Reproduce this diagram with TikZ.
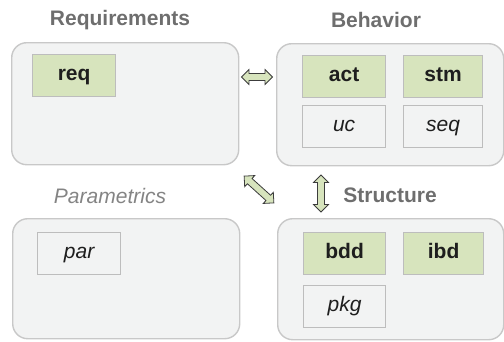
\documentclass[tikz,border=0pt]{standalone}
\usepackage{fontspec}
\setmainfont{Liberation Sans}
\definecolor{boxfill}{HTML}{F2F3F3}
\definecolor{boxline}{HTML}{C8C8C8}
\definecolor{greenfill}{HTML}{D7E4BD}
\definecolor{innerline}{HTML}{BDBDBD}
\definecolor{titlegray}{HTML}{6E6E6E}
\definecolor{textdark}{HTML}{1E1E1E}
\definecolor{arrowline}{HTML}{3C3C3C}
\tikzset{
  area/.style={draw=boxline, fill=boxfill, line width=1.4bp, rounded corners=15bp, anchor=north west, inner sep=0pt},
  diag/.style={draw=innerline, line width=1.2bp, anchor=north west, inner sep=0pt, text=textdark,
    text height=15bp, text depth=4.4bp,
    font=\fontsize{21bp}{25bp}\selectfont, minimum width=83bp, minimum height=42bp},
  core/.style={diag, fill=greenfill, font=\fontsize{21bp}{25bp}\selectfont\bfseries},
  extra/.style={diag, fill=boxfill, font=\fontsize{21bp}{25bp}\selectfont\itshape},
  title/.style={text=titlegray, font=\fontsize{21bp}{25bp}\selectfont\bfseries},
  ititle/.style={text=titlegray!85, font=\fontsize{21bp}{25bp}\selectfont\itshape},
  pics/fatarrow/.style={code={
    \draw[draw=arrowline, fill=greenfill, line width=0.8bp, line join=miter]
      (-#1/2,0) -- (-#1/2+7.5,-7.5) -- (-#1/2+7.5,-3.5) -- (#1/2-7.5,-3.5) -- (#1/2-7.5,-7.5)
      -- (#1/2,0) -- (#1/2-7.5,7.5) -- (#1/2-7.5,3.5) -- (-#1/2+7.5,3.5) -- (-#1/2+7.5,7.5) -- cycle;
  }}
}
\begin{document}
\begin{tikzpicture}[x=1bp,y=-1bp]
\useasboundingbox (0,0) rectangle (504,341);
% areas
\node[area, minimum width=227bp, minimum height=122bp] (reqarea) at (11,42) {};
\node[area, minimum width=227bp, minimum height=122bp] (beharea) at (276,43) {};
\node[area, minimum width=227bp, minimum height=120bp] (pararea) at (12,218) {};
\node[area, minimum width=226bp, minimum height=121bp] (strarea) at (277,218) {};
% titles
\node[title] (reqtitle) at (120,20) {Requirements};
\node[title] (behtitle) at (376,20) {Behavior};
\node[ititle] (partitle) at (110,196) {Parametrics};
\node[title] (strtitle) at (390,195) {Structure};
% diagrams
\node[core] (req) at (32,54) {req};
\node[core] (act) at (302,55) {act};
\node[core, minimum width=79bp] (stm) at (403,55) {stm};
\node[extra] (uc) at (302,105) {uc};
\node[extra, minimum width=79bp] (seq) at (403,105) {seq};
\node[extra] (par) at (37,232) {par};
\node[core, minimum width=82bp] (bdd) at (303,232) {bdd};
\node[core, minimum width=80bp] (ibd) at (403,232) {ibd};
\node[extra, minimum width=82bp] (pkg) at (303,285) {pkg};
% relations
\pic at (257,77) {fatarrow=31};
\pic[rotate=-42] at (259,189.5) {fatarrow=40};
\pic[rotate=90] at (321,193.5) {fatarrow=37};
\end{tikzpicture}
\end{document}
